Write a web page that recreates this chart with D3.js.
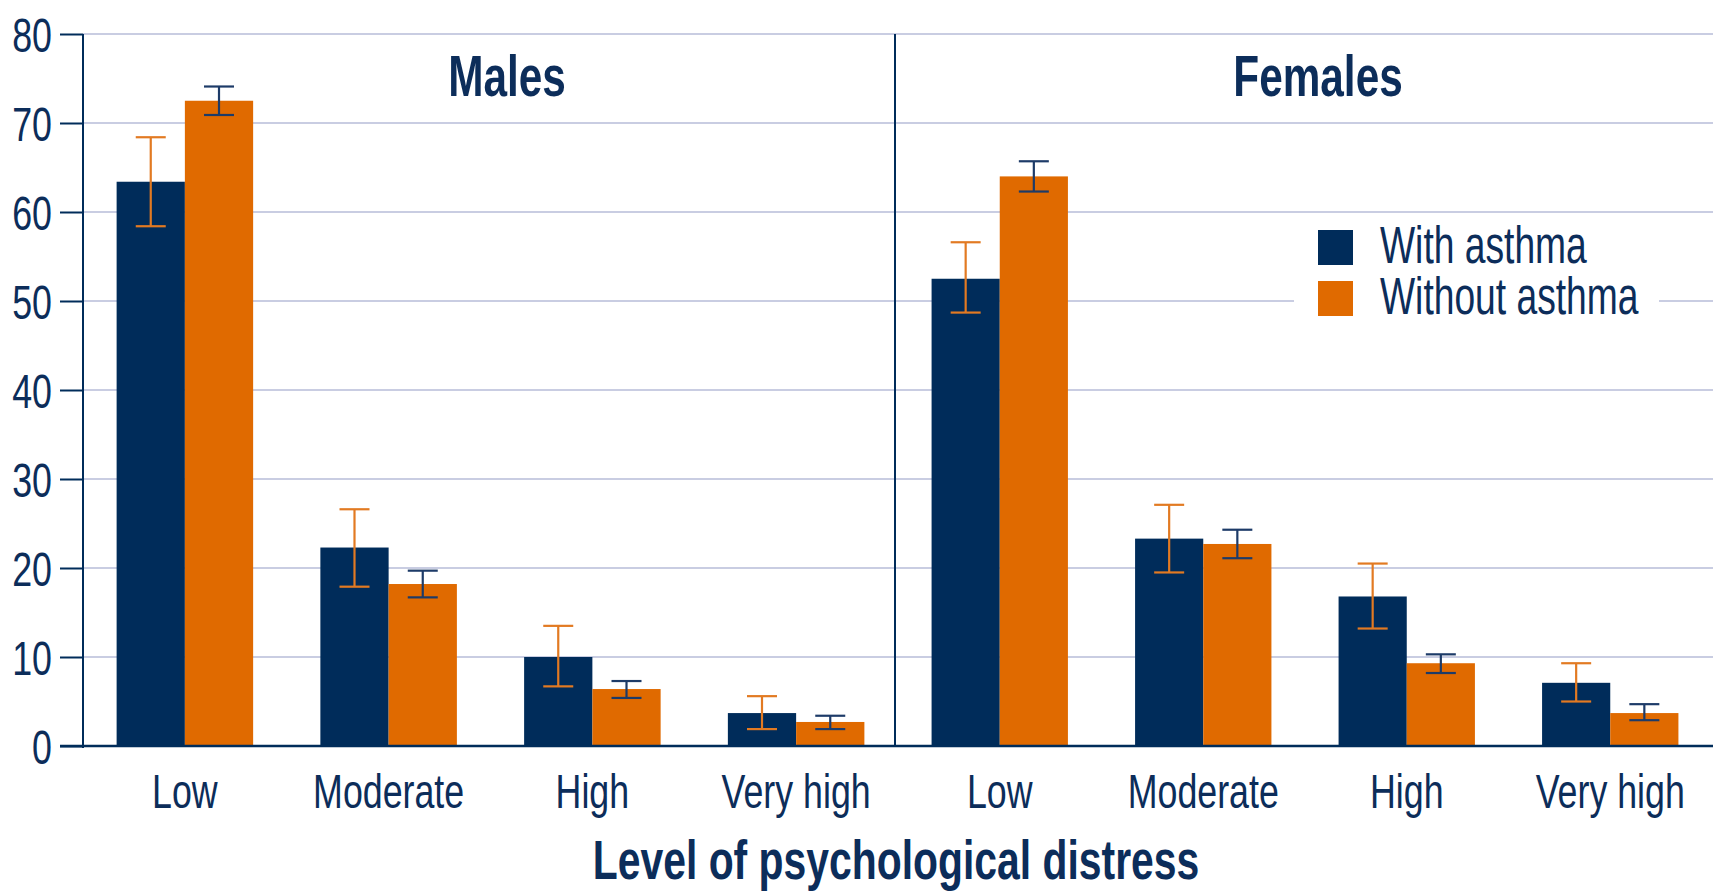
<!DOCTYPE html>
<html>
<head>
<meta charset="utf-8">
<script src="https://cdn.jsdelivr.net/npm/d3@7"></script>
<style>
  html, body { margin: 0; padding: 0; background: #fff; }
  svg { display: block; }
  text { font-family: "Liberation Sans", Arial, sans-serif; fill: #0c2d5a; }
</style>
</head>
<body>
<div id="chart"></div>
<script>
// ---- data ----
const panels = ["Males", "Females"];
const categories = ["Low", "Moderate", "High", "Very high"];
const series = ["With asthma", "Without asthma"];
const yTicks = [0, 10, 20, 30, 40, 50, 60, 70, 80];

const malesWith        = [63.4, 22.3, 10.0, 3.7];
const malesWithLow     = [58.4, 17.9, 6.7, 1.9];
const malesWithHigh    = [68.4, 26.6, 13.5, 5.6];
const malesWithout     = [72.5, 18.2, 6.4, 2.7];
const malesWithoutLow  = [70.9, 16.7, 5.4, 1.9];
const malesWithoutHigh = [74.1, 19.7, 7.3, 3.4];

const femalesWith        = [52.5, 23.3, 16.8, 7.1];
const femalesWithLow     = [48.7, 19.5, 13.2, 5.0];
const femalesWithHigh    = [56.6, 27.1, 20.5, 9.3];
const femalesWithout     = [64.0, 22.7, 9.3, 3.7];
const femalesWithoutLow  = [62.3, 21.1, 8.2, 2.9];
const femalesWithoutHigh = [65.7, 24.3, 10.3, 4.7];

const xTitle = "Level of psychological distress";

// ---- build rows ----
function rows(panel, vals, lo, hi, s) {
  return categories.map((c, i) => ({ panel, cat: c, series: s, value: vals[i], lo: lo[i], hi: hi[i] }));
}
const data = [].concat(
  rows("Males", malesWith, malesWithLow, malesWithHigh, series[0]),
  rows("Males", malesWithout, malesWithoutLow, malesWithoutHigh, series[1]),
  rows("Females", femalesWith, femalesWithLow, femalesWithHigh, series[0]),
  rows("Females", femalesWithout, femalesWithoutLow, femalesWithoutHigh, series[1])
);

// ---- layout ----
const W = 1713, H = 891;
const NAVY = "#002c5a", ORANGE = "#e06a00";
const GRID = "#c9cde2";
const SX = 0.73; // condensed look
const axisX = 83, divX = 895, rightX = 1713;
const y = d3.scaleLinear().domain([0, 80]).range([746, 34]);

const xPanel = {
  Males: d3.scaleBand().domain(categories).range([83, 898]).paddingInner(0.33).paddingOuter(0.165),
  Females: d3.scaleBand().domain(categories).range([898, 1712]).paddingInner(0.33).paddingOuter(0.165)
};
const color = d3.scaleOrdinal().domain(series).range([NAVY, ORANGE]);
const errColor = d3.scaleOrdinal().domain(series).range(["#e27a22", "#1d3b68"]);

const svg = d3.select("#chart").append("svg").attr("width", W).attr("height", H);

function place(sel, fx, fy) {
  return sel.attr("transform", (d, i) => `translate(${fx(d, i)},${fy(d, i)}) scale(${SX},1)`);
}

// gridlines
svg.append("g").selectAll("line").data(yTicks.filter(t => t > 0)).join("line")
  .attr("x1", axisX).attr("x2", rightX)
  .attr("y1", d => y(d)).attr("y2", d => y(d))
  .attr("stroke", GRID).attr("stroke-width", 2);

// legend background (covers grid)
const legend = svg.append("g").attr("transform", "translate(1318,230)");
legend.append("rect").attr("x", -24).attr("y", -10).attr("width", 365).attr("height", 105).attr("fill", "#fff");

// bars
panels.forEach(p => {
  const x0 = xPanel[p];
  const x1 = d3.scaleBand().domain(series).range([0, x0.bandwidth()]);
  const g = svg.append("g");
  const pd = data.filter(d => d.panel === p);
  g.selectAll("rect").data(pd).join("rect")
    .attr("x", d => x0(d.cat) + x1(d.series))
    .attr("y", d => y(d.value))
    .attr("width", x1.bandwidth())
    .attr("height", d => y(0) - y(d.value))
    .attr("fill", d => color(d.series));
  const cap = 15;
  const eg = g.selectAll("g.err").data(pd).join("g").attr("class", "err")
    .attr("stroke", d => errColor(d.series)).attr("stroke-width", 2.2);
  const cx = d => x0(d.cat) + x1(d.series) + x1.bandwidth() / 2;
  eg.append("line").attr("x1", cx).attr("x2", cx).attr("y1", d => y(d.hi)).attr("y2", d => y(d.lo));
  eg.append("line").attr("x1", d => cx(d) - cap).attr("x2", d => cx(d) + cap).attr("y1", d => y(d.hi)).attr("y2", d => y(d.hi));
  eg.append("line").attr("x1", d => cx(d) - cap).attr("x2", d => cx(d) + cap).attr("y1", d => y(d.lo)).attr("y2", d => y(d.lo));

  // category labels
  place(svg.append("g").selectAll("text").data(categories).join("text"),
        d => x0(d) + x0.bandwidth() / 2, () => 808)
    .attr("text-anchor", "middle")
    .attr("font-size", 49)
    .text(d => d);
});

// y axis
const yAxis = d3.axisLeft(y).tickValues(yTicks).tickSize(23).tickPadding(8).tickFormat(d3.format("d"));
const ya = svg.append("g").attr("transform", `translate(${axisX},0)`).call(yAxis);
ya.attr("font-family", null).attr("font-size", null);
ya.select(".domain").remove();
ya.selectAll(".tick line").attr("stroke", NAVY).attr("stroke-width", 2);
ya.selectAll(".tick text")
  .attr("x", 0).attr("dy", "0.36em")
  .attr("transform", `translate(-31,0) scale(${SX},1)`)
  .attr("font-size", 49).attr("fill", "#0c2d5a");

// axis lines
svg.append("line").attr("x1", axisX).attr("x2", axisX).attr("y1", y(80)).attr("y2", y(0) + 2)
  .attr("stroke", NAVY).attr("stroke-width", 2);
svg.append("line").attr("x1", divX).attr("x2", divX).attr("y1", y(80)).attr("y2", y(0))
  .attr("stroke", NAVY).attr("stroke-width", 2);
svg.append("line").attr("x1", 60).attr("x2", rightX).attr("y1", y(0)).attr("y2", y(0))
  .attr("stroke", NAVY).attr("stroke-width", 2.5);

// panel titles
const titleX = { Males: 507, Females: 1318 };
place(svg.append("g").selectAll("text").data(panels).join("text"), d => titleX[d], () => 96)
  .attr("text-anchor", "middle").attr("font-size", 58).attr("font-weight", "bold")
  .text(d => d);

// x title
place(svg.append("g").selectAll("text").data([xTitle]).join("text"), () => 896, () => 879)
  .attr("text-anchor", "middle")
  .attr("font-size", 56).attr("font-weight", "bold").text(d => d);

// legend
const li = legend.selectAll("g.li").data(series).join("g").attr("class", "li")
  .attr("transform", (d, i) => `translate(0,${i * 51})`);
li.append("rect").attr("width", 35).attr("height", 35).attr("fill", d => color(d));
li.append("text").attr("transform", `translate(62,33) scale(${SX},1)`).attr("font-size", 51).text(d => d);
</script>
</body>
</html>
